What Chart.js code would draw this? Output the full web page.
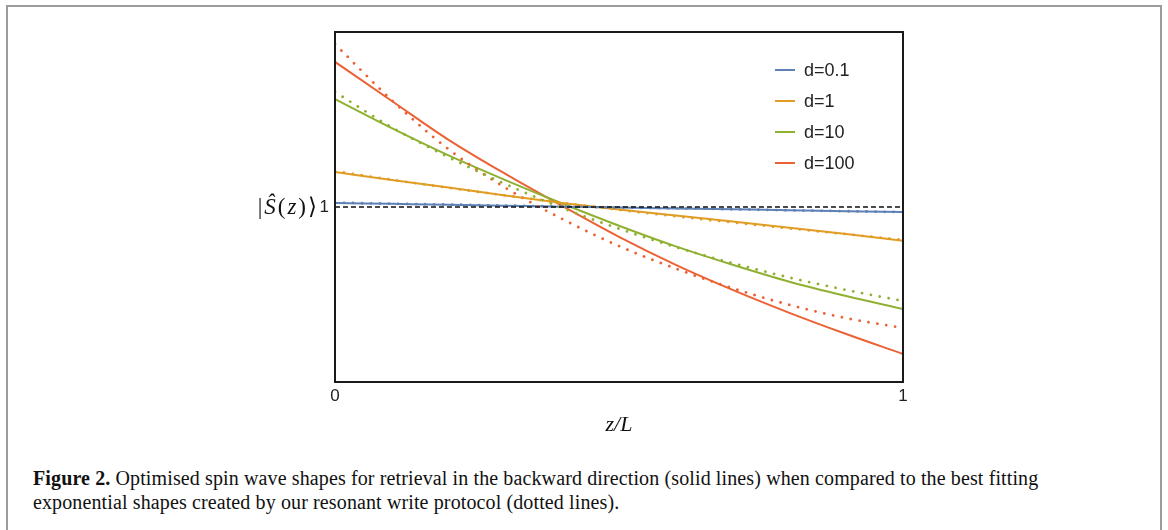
<!DOCTYPE html>
<html>
<head>
<meta charset="utf-8">
<script src="https://cdn.jsdelivr.net/npm/chart.js@4"></script>
<style>
  body { margin: 0; background: #fff; width: 1168px; height: 530px; overflow: hidden; position: relative; }
  #frame { position: absolute; left: 6px; top: 5px; width: 1152px; height: 600px; border: 2px solid #9c9c9c; }
  #chart { position: absolute; left: 0; top: 0; }
  #caption { position: absolute; left: 33px; top: 466px; font-family: "Liberation Serif", serif; font-size: 20px; letter-spacing: 0.12px; line-height: 24px; color: #111; white-space: nowrap; }
  #caption b { font-weight: bold; }
</style>
</head>
<body>
<div id="frame"></div>
<canvas id="chart" width="1168" height="450"></canvas>
<div id="caption"><b>Figure 2.</b> Optimised spin wave shapes for retrieval in the backward direction (solid lines) when compared to the best fitting<br>exponential shapes created by our resonant write protocol (dotted lines).</div>
<script>
// positions along the medium, z/L
var zPos = [0, 0.1, 0.2, 0.3, 0.4, 0.5, 0.6, 0.7, 0.8, 0.9, 1];

// optimised spin waves (solid)
var solid01 = [1.023, 1.018, 1.013, 1.007, 1.002, 0.997, 0.992, 0.987, 0.982, 0.976, 0.971];
var solid1 = [1.2, 1.154, 1.111, 1.066, 1.023, 0.986, 0.951, 0.917, 0.882, 0.846, 0.807];
var solid10 = [1.617, 1.451, 1.295, 1.154, 1.02, 0.893, 0.775, 0.67, 0.573, 0.491, 0.417];
var solid100 = [1.829, 1.606, 1.384, 1.189, 1.006, 0.829, 0.669, 0.526, 0.395, 0.274, 0.16];

// best fitting exponential shapes (dotted)
var fit01 = [1.025, 1.019, 1.014, 1.008, 1.003, 0.997, 0.992, 0.987, 0.981, 0.976, 0.971];
var fit1 = [1.205, 1.156, 1.11, 1.066, 1.024, 0.984, 0.947, 0.912, 0.878, 0.845, 0.812];
var fit10 = [1.657, 1.455, 1.285, 1.131, 0.995, 0.876, 0.771, 0.679, 0.597, 0.526, 0.463];
var fit100 = [1.931, 1.61, 1.33, 1.11, 0.932, 0.777, 0.648, 0.536, 0.441, 0.365, 0.309];

// flat reference at 1
var refZ = [0, 1];
var refLine = [1, 1];

var labels = ['d=0.1', 'd=1', 'd=10', 'd=100'];
var colors = ['#5E81B5', '#E19C24', '#8FB032', '#EB6235'];
var xTicks = [0, 1];
var yTicks = [1];

function pts(xs, ys) {
    return xs.map(function(x, i) { return {x: x, y: ys[i]}; });
}

var datasets = [];
var fits = [fit01, fit1, fit10, fit100];
var solids = [solid01, solid1, solid10, solid100];

datasets.push({
    label: 'ref', data: pts(refZ, refLine), borderColor: '#111', borderWidth: 1.5,
    borderDash: [5, 3], pointRadius: 0, showInLegend: false
});
fits.forEach(function(f, i) {
    datasets.push({
        label: labels[i] + ' fit', data: pts(zPos, f), borderColor: colors[i], borderWidth: 2.8,
        borderDash: [0.01, 9], borderCapStyle: 'round', pointRadius: 0,
        cubicInterpolationMode: 'monotone', showInLegend: false
    });
});
solids.forEach(function(s, i) {
    datasets.push({
        label: labels[i], data: pts(zPos, s), borderColor: colors[i], borderWidth: 2,
        pointRadius: 0, cubicInterpolationMode: 'monotone', showInLegend: true
    });
});

// pieces of the y label: [text, italic]
var yLabel = [['|', false], ['\u015C', true], ['(', false], ['z', true], [')', false], ['\u27E9', false]];

// frame, legend and the y label
var extras = {
    id: 'extras',
    afterDatasetsDraw: function(chart) {
        var ctx = chart.ctx, a = chart.chartArea;
        ctx.save();
        ctx.strokeStyle = '#1a1a1a';
        ctx.lineWidth = 2;
        ctx.strokeRect(a.left, a.top, a.right - a.left, a.bottom - a.top);

        var lx = a.right - 128, ly = a.top + 38;
        ctx.font = '18px "Liberation Sans", Arial, sans-serif';
        ctx.textBaseline = 'middle';
        ctx.textAlign = 'left';
        var n = 0;
        chart.data.datasets.forEach(function(ds) {
            if (!ds.showInLegend) return;
            var y = ly + n * 31;
            ctx.strokeStyle = ds.borderColor;
            ctx.lineWidth = 2;
            ctx.beginPath();
            ctx.moveTo(lx, y);
            ctx.lineTo(lx + 20, y);
            ctx.stroke();
            ctx.fillStyle = '#222';
            ctx.fillText(ds.label, lx + 29, y + 1);
            n++;
        });

        // y label, laid out piece by piece
        var yy = chart.scales.y.getPixelForValue(1) + 1;
        ctx.fillStyle = '#111';
        ctx.textBaseline = 'middle';
        var fonts = yLabel.map(function(p) {
            return (p[1] ? 'italic ' : '') + '23px "Liberation Serif", serif';
        });
        var gap = 2, total = 0;
        yLabel.forEach(function(p, i) { ctx.font = fonts[i]; total += ctx.measureText(p[0]).width + gap; });
        var x = a.left - 16 - total;
        yLabel.forEach(function(p, i) {
            ctx.font = fonts[i];
            ctx.fillText(p[0], x, yy);
            x += ctx.measureText(p[0]).width + gap;
        });
        ctx.restore();
    }
};

new Chart(document.getElementById('chart'), {
    type: 'line',
    data: { datasets: datasets },
    options: {
        responsive: false,
        animation: false,
        layout: { padding: { left: 295, right: 265, top: 32, bottom: 8 } },
        plugins: { legend: { display: false }, tooltip: { enabled: false } },
        scales: {
            x: {
                type: 'linear', min: 0, max: 1,
                grid: { display: false, drawTicks: false },
                border: { display: false },
                afterBuildTicks: function(s) { s.ticks = xTicks.map(function(v) { return {value: v}; }); },
                afterFit: function(s) { s.height = 60; },
                ticks: { padding: 4, color: '#222', font: { family: '"Liberation Sans", Arial, sans-serif', size: 17 } },
                title: { display: true, text: 'z/L', color: '#111', padding: {top: 0, bottom: 4},
                    font: { family: '"Liberation Serif", serif', size: 22, style: 'italic' } }
            },
            y: {
                type: 'linear', min: 0, max: 2,
                grid: { display: false, drawTicks: false },
                border: { display: false },
                afterBuildTicks: function(s) { s.ticks = yTicks.map(function(v) { return {value: v}; }); },
                afterFit: function(s) { s.width = 40; },
                ticks: { padding: 6, color: '#222', font: { family: '"Liberation Sans", Arial, sans-serif', size: 17 } }
            }
        }
    },
    plugins: [extras]
});
</script>
</body>
</html>
